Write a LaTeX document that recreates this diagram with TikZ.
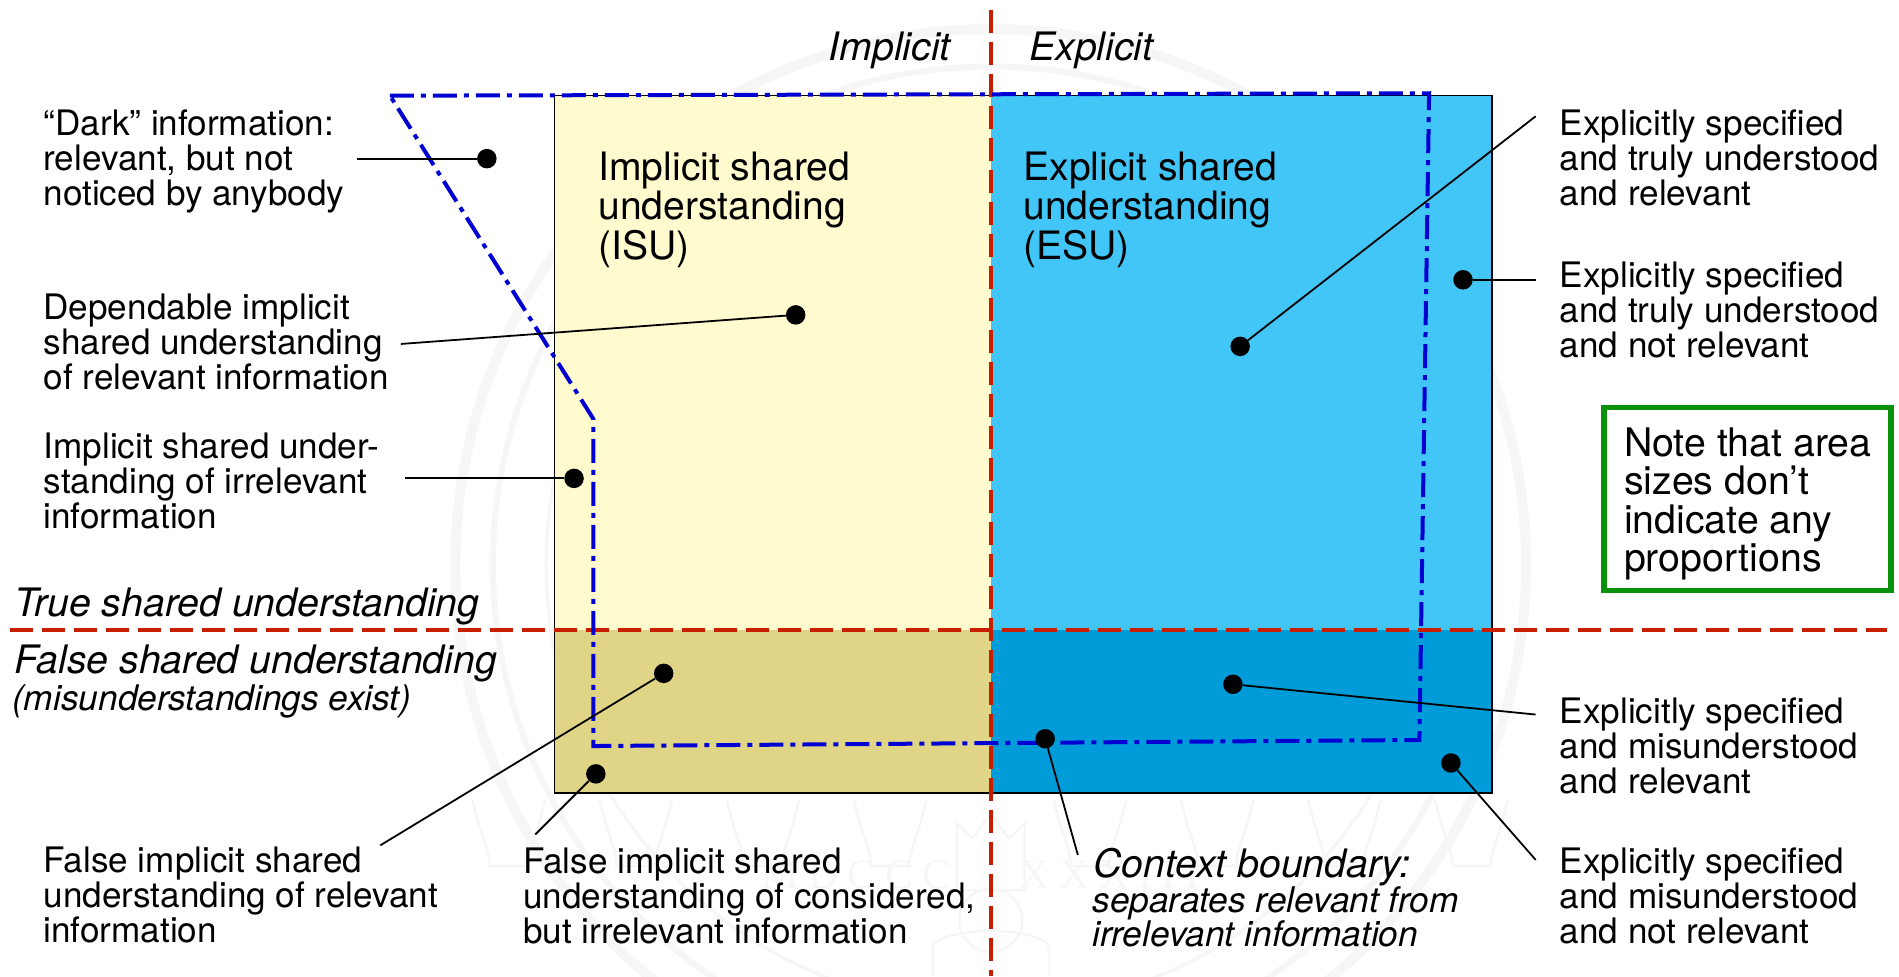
\documentclass[tikz,border=0pt]{standalone}
\usepackage{fontspec}
\setmainfont{TeX Gyre Heros}
\newfontfamily\sealfont[LetterSpace=22]{Liberation Serif}
\definecolor{isu}{HTML}{FFFBCF}
\definecolor{esu}{HTML}{42C6F8}
\definecolor{fisu}{HTML}{E0D586}
\definecolor{fesu}{HTML}{009CD9}
\definecolor{redline}{HTML}{C81E00}
\definecolor{blueline}{HTML}{0000D2}
\definecolor{greenbox}{HTML}{0A910A}
\definecolor{seal}{HTML}{F6F6F6}
\tikzset{
  lab/.style={anchor=west,inner sep=0pt,outer sep=0pt,align=left,font=\fontsize{35.1}{35}\selectfont},
  big/.style={anchor=west,inner sep=0pt,outer sep=0pt,align=left,font=\fontsize{39.1}{39.5}\selectfont},
  ital/.style={anchor=west,inner sep=0pt,outer sep=0pt,align=left,font=\itshape\fontsize{39.2}{38}\selectfont},
  ismall/.style={anchor=west,inner sep=0pt,outer sep=0pt,align=left,font=\itshape\fontsize{35.3}{34}\selectfont},
  dot/.style={circle,fill=black,draw=none,minimum size=19.5pt,inner sep=0pt},
  conn/.style={draw=black,line width=1.8pt},
  reddash/.style={draw=redline,line width=4pt,dash pattern=on 23pt off 9pt},
  bluedash/.style={draw=blueline,line width=4pt,dash pattern=on 24pt off 7pt on 5pt off 7pt},
  ring/.style={draw=seal},
}
\begin{document}
\begin{tikzpicture}[x=1.21110pt,y=-1.21110pt]
\useasboundingbox (0,0) rectangle (1568,806);
% faint seal in the background
\coordinate (sealc) at (818,466);
\draw[ring,line width=10pt] (sealc) circle[radius=442];
\draw[ring,line width=6pt] (sealc) circle[radius=411];
\draw[ring,line width=3.5pt] (sealc) circle[radius=367];
\foreach \ax in {420,525,630,735,900,1005,1110,1215}
  \draw[ring,line width=2.5pt] (\ax-30,660) .. controls (\ax-22,695) and (\ax-16,700) .. (\ax-16,715) -- (\ax+16,715) .. controls (\ax+16,700) and (\ax+22,695) .. (\ax+30,660);
\draw[ring,line width=2.5pt] (790,735) -- (790,680) -- (803,692) -- (818,672) -- (833,692) -- (846,680) -- (846,735) -- cycle;
\draw[ring,line width=2.5pt] (818,760) circle[radius=26];
\draw[ring,line width=2.5pt] (770,806) -- (770,780) .. controls (785,765) and (851,765) .. (866,780) -- (866,806);
\node[text=seal,anchor=west,inner sep=0pt,font=\sealfont\fontsize{42}{42}\selectfont] (sealr) at (842,722) {XXXIII};
\node[text=seal,anchor=east,inner sep=0pt,font=\sealfont\fontsize{42}{42}\selectfont] (seall) at (785,722) {MDCCC};
% areas
\fill[isu] (458,79) rectangle (818,520);
\fill[esu] (818,79) rectangle (1232,520);
\fill[fisu] (458,520) rectangle (818,655);
\fill[fesu] (818,520) rectangle (1232,655);
\draw[black,line width=1.6pt] (458,79) rectangle (1232,655);
% boundaries
\coordinate (vt) at (818,8);
\coordinate (vb) at (818,806);
\coordinate (hl) at (8,520);
\coordinate (hr) at (1558,520);
\draw[reddash] (vt) -- (vb);
\draw[reddash] (hl) -- (hr);
\coordinate (b1) at (322,79);
\coordinate (b2) at (1180,77);
\coordinate (b3) at (1172,611);
\coordinate (b4) at (490,616);
\coordinate (b5) at (490,346);
\draw[bluedash] (b1) -- (b2) -- (b3) -- (b4) -- (b5) -- cycle;
% dots
\node[dot] (d1) at (402,131) {};
\node[dot] (d2) at (657,260) {};
\node[dot] (d3) at (474,395) {};
\node[dot] (d4) at (548,556) {};
\node[dot] (d5) at (492,639) {};
\node[dot] (d6) at (863,610) {};
\node[dot] (d7) at (1018,565) {};
\node[dot] (d8) at (1198,630) {};
\node[dot] (d9) at (1024,286) {};
\node[dot] (d10) at (1208,231) {};
% free ends
\coordinate (e1) at (295,131);
\coordinate (e2) at (331,284);
\coordinate (e3) at (334,395);
\coordinate (e4) at (314,698);
\coordinate (e5) at (442,689);
\coordinate (e6) at (890,706);
\coordinate (e7) at (1268,590);
\coordinate (e8) at (1268,710);
\coordinate (e9) at (1268,96);
\coordinate (e10) at (1268,231);
\foreach \n in {1,...,10} \draw[conn] (e\n) -- (d\n);
% labels
\node[lab] (t1) at (36,133) {“Dark” information:\\relevant, but not\\noticed by anybody};
\node[lab] (t2) at (36,282) {Dependable implicit\\shared understanding\\of relevant information};
\node[lab] (t3) at (36,397) {Implicit shared under-\\standing of irrelevant\\information};
\node[lab] (t4) at (36,739) {False implicit shared\\understanding of relevant\\information};
\node[lab] (t5) at (432,740) {False implicit shared\\understanding of considered,\\but irrelevant information};
\node[lab] (t6) at (1288,130) {Explicitly specified\\and truly understood\\and relevant};
\node[lab] (t7) at (1288,256) {Explicitly specified\\and truly understood\\and not relevant};
\node[lab] (t8) at (1288,616) {Explicitly specified\\and misunderstood\\and relevant};
\node[lab] (t9) at (1288,740) {Explicitly specified\\and misunderstood\\and not relevant};
\node[big] (isu) at (494,173) {Implicit shared\\understanding\\(ISU)};
\node[big] (esu) at (845,173) {Explicit shared\\understanding\\(ESU)};
\node[ital,anchor=east] (impl) at (785,42) {Implicit};
\node[ital] (expl) at (850,42) {Explicit};
\node[ital] (true) at (12,501) {True shared understanding};
\node[ital] (false) at (12,548) {False shared understanding};
\node[ismall] (mis) at (10,579) {(misunderstandings exist)};
\node[ital] (ctx) at (903,716) {Context boundary:};
\node[ismall] (sep) at (902,757) {separates relevant from\\irrelevant information};
% note
\node[draw=greenbox,line width=5.5pt,rectangle,anchor=north west,inner sep=0pt,outer sep=0pt,minimum width=287pt,minimum height=183pt] (note) at (1324.3,336.3) {};
\node[big,font=\fontsize{39.3}{38.5}\selectfont] (notet) at (1341,416) {Note that area\\sizes don’t\\indicate any\\proportions};
\end{tikzpicture}
\end{document}
